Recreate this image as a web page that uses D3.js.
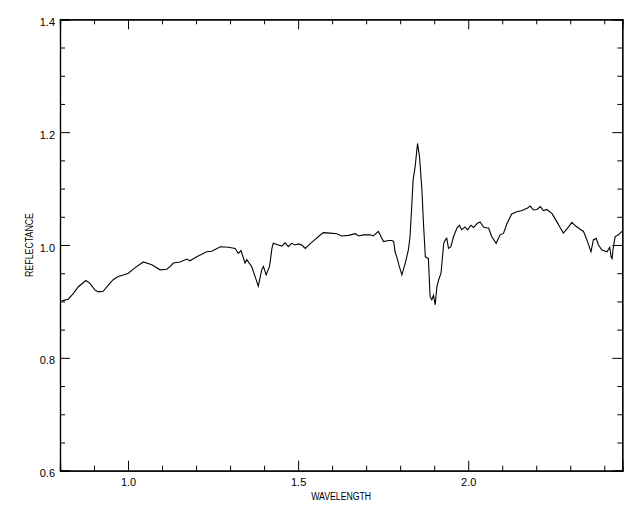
<!DOCTYPE html>
<html>
<head>
<meta charset="utf-8">
<script src="https://cdn.jsdelivr.net/npm/d3@7/dist/d3.min.js"></script>
<style>
  body { margin: 0; background: #fff; }
  svg { display: block; }
  text { font-family: "Liberation Sans", Arial, sans-serif; fill: #000; }
</style>
</head>
<body>
<svg id="chart" width="640" height="512"></svg>
<script>
// ---- data ----
const wavelength = [
  0.805,0.824,0.839,0.854,0.876,0.888,0.903,0.913,0.927,0.942,0.957,0.971,0.986,1.001,1.021,1.045,1.070,1.094,1.114,1.124,
  1.133,1.153,1.173,1.182,1.202,1.231,1.246,1.271,1.295,1.315,1.324,1.332,1.344,1.349,1.364,1.383,1.393,1.398,1.406,1.416,
  1.423,1.427,1.442,1.452,1.462,1.471,1.481,1.491,1.501,1.511,1.521,1.535,1.550,1.560,1.574,1.594,1.614,1.628,1.648,1.668,
  1.678,1.692,1.712,1.721,1.736,1.746,1.751,1.766,1.776,1.781,1.785,1.790,1.797,1.805,1.815,1.824,1.829,1.834,1.838,1.844,
  1.851,1.857,1.864,1.868,1.874,1.883,1.888,1.893,1.898,1.903,1.908,1.913,1.920,1.928,1.933,1.937,1.942,1.949,1.957,1.967,
  1.974,1.981,1.991,1.998,2.008,2.016,2.026,2.035,2.045,2.055,2.060,2.069,2.082,2.094,2.104,2.114,2.128,2.143,2.158,2.173,
  2.182,2.192,2.202,2.212,2.221,2.231,2.246,2.261,2.271,2.280,2.295,2.305,2.315,2.329,2.339,2.349,2.361,2.368,2.376,2.383,
  2.393,2.408,2.416,2.420,2.423,2.426,2.432,2.442,2.452
];
const reflectance = [
  0.901,0.904,0.914,0.926,0.937,0.932,0.920,0.917,0.918,0.929,0.939,0.944,0.947,0.950,0.960,0.970,0.965,0.956,0.957,0.962,
  0.968,0.970,0.975,0.972,0.979,0.988,0.989,0.997,0.996,0.994,0.985,0.990,0.968,0.974,0.961,0.927,0.956,0.962,0.947,0.962,
  0.994,1.003,1.000,0.998,1.004,0.997,1.003,1.000,1.002,1.000,0.994,1.002,1.010,1.015,1.022,1.021,1.020,1.016,1.017,1.020,
  1.016,1.018,1.018,1.016,1.024,1.012,1.006,1.008,1.008,1.006,0.988,0.979,0.963,0.947,0.968,0.991,1.015,1.068,1.115,1.139,
  1.180,1.156,1.097,1.044,0.979,0.976,0.908,0.903,0.911,0.894,0.926,0.938,0.950,1.003,1.009,1.012,0.994,0.997,1.015,1.030,
  1.035,1.027,1.032,1.027,1.035,1.031,1.038,1.041,1.032,1.030,1.030,1.015,1.003,1.018,1.021,1.038,1.055,1.059,1.061,1.065,
  1.069,1.062,1.063,1.068,1.061,1.063,1.056,1.041,1.030,1.021,1.032,1.040,1.034,1.028,1.024,1.009,0.988,1.009,1.012,1.000,
  0.991,0.988,0.996,0.979,0.976,0.994,1.015,1.018,1.024
];
const xDomain = [0.8, 2.453];
const yDomain = [0.6, 1.4];
const xMajorTicks = [1.0, 1.5, 2.0];
const xMinorTicks = [0.9,1.1,1.2,1.3,1.4,1.6,1.7,1.8,1.9,2.1,2.2,2.3,2.4];
const yMajorTicks = [0.6, 0.8, 1.0, 1.2, 1.4];
const yMinorTicks = [0.65,0.7,0.75,0.85,0.9,0.95,1.05,1.1,1.15,1.25,1.3,1.35];
const xTitle = "WAVELENGTH";
const yTitle = "REFLECTANCE";

// ---- layout ----
const L = 60, R = 622.3, T = 19.3, B = 470.7;
const svg = d3.select("#chart");
const x = d3.scaleLinear().domain(xDomain).range([L, R]);
const y = d3.scaleLinear().domain(yDomain).range([B, T]);

const MAJ = 10, MIN = 5;

const gBottom = svg.append("g").attr("transform", `translate(0,${B})`);
gBottom.call(d3.axisBottom(x).tickValues(xMajorTicks).tickSize(-MAJ).tickPadding(8).tickFormat(d3.format(".1f")));
gBottom.append("g").call(d3.axisBottom(x).tickValues(xMinorTicks).tickSize(-MIN).tickFormat(""));
const gTop = svg.append("g").attr("transform", `translate(0,${T})`);
gTop.call(d3.axisTop(x).tickValues(xMajorTicks).tickSize(-MAJ).tickFormat(""));
gTop.append("g").call(d3.axisTop(x).tickValues(xMinorTicks).tickSize(-MIN).tickFormat(""));
const gLeft = svg.append("g").attr("transform", `translate(${L},0)`);
gLeft.call(d3.axisLeft(y).tickValues(yMajorTicks).tickSize(-MAJ).tickPadding(5).tickFormat(d3.format(".1f")));
gLeft.append("g").call(d3.axisLeft(y).tickValues(yMinorTicks).tickSize(-MIN).tickFormat(""));
const gRight = svg.append("g").attr("transform", `translate(${R},0)`);
gRight.call(d3.axisRight(y).tickValues(yMajorTicks).tickSize(-MAJ).tickFormat(""));
gRight.append("g").call(d3.axisRight(y).tickValues(yMinorTicks).tickSize(-MIN).tickFormat(""));

svg.selectAll(".domain").attr("stroke", "#000").attr("stroke-width", 1.2);
svg.selectAll(".tick line").attr("stroke", "#000").attr("stroke-width", 1);
svg.selectAll(".tick text").attr("font-size", 11).attr("font-family", "Liberation Sans, Arial, sans-serif").attr("fill", "#000");
gLeft.selectAll(".tick text").attr("dy", "0.55em");

svg.append("text").attr("x", (L + R) / 2).attr("y", 500).attr("text-anchor", "middle")
  .attr("font-size", 10).attr("textLength", 60).attr("lengthAdjust", "spacingAndGlyphs").text(xTitle);
svg.append("text").attr("transform", `translate(33,${(T + B) / 2}) rotate(-90)`).attr("text-anchor", "middle")
  .attr("font-size", 10).attr("textLength", 64).attr("lengthAdjust", "spacingAndGlyphs").text(yTitle);

const pts = wavelength.map((w, i) => [w, reflectance[i]]);
svg.append("path").datum(pts)
  .attr("fill", "none").attr("stroke", "#000").attr("stroke-width", 1.1)
  .attr("d", d3.line().x(d => x(d[0])).y(d => y(d[1])));
</script>
</body>
</html>
